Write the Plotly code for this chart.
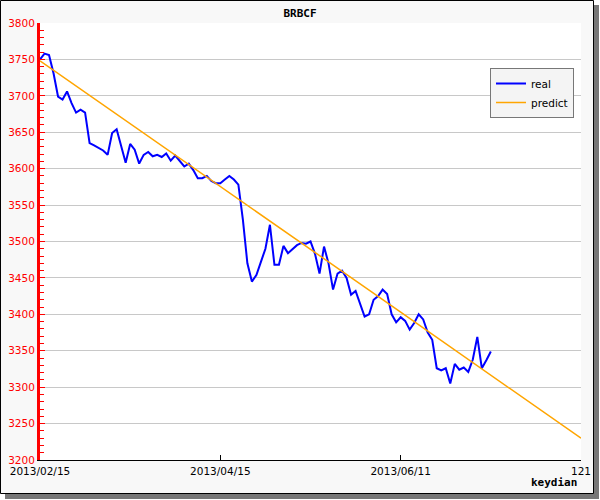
import plotly.graph_objects as go

# ---- data ----
real_x = list(range(0, 101))
real_y = [3750, 3758, 3756, 3731, 3699, 3695, 3706, 3690, 3677, 3681,
          3677, 3635, 3632, 3629, 3625, 3619, 3649, 3654, 3630, 3608,
          3634, 3626, 3607, 3619, 3623, 3617, 3619, 3616, 3621, 3611,
          3618, 3610, 3603, 3607, 3598, 3587, 3587, 3590, 3583, 3580,
          3580, 3585, 3590, 3585, 3578, 3530, 3470, 3445, 3454, 3472,
          3490, 3523, 3468, 3468, 3494, 3484, 3489, 3495, 3498, 3497,
          3500, 3483, 3456, 3493, 3470, 3434, 3456, 3460, 3450, 3427,
          3432, 3415, 3397, 3400, 3420, 3425, 3434, 3428, 3400, 3389,
          3396, 3391, 3379, 3388, 3400, 3393, 3375, 3365, 3326, 3323,
          3326, 3305, 3332, 3324, 3327, 3321, 3338, 3369, 3326, 3337,
          3349]

predict_x = [0, 40, 80, 120]
predict_y = [3748, 3576, 3403, 3230]

x_tick_vals = [0, 40, 80, 120]
x_tick_text = ["2013/02/15", "2013/04/15", "2013/06/11", "121"]

title_text = "BRBCF"
x_title = "keydian"

# ---- layout geometry (pixels) ----
W, H = 600, 500
L, R, T, B = 40, 581, 23, 460
pw, ph = R - L, B - T


def fx(px):
    return (px - L) / pw


def fy(py):
    return 1 - (py - T) / ph


fig = go.Figure()
fig.add_trace(go.Scatter(x=real_x, y=real_y, mode="lines", name="real",
                         line=dict(color="#0000ff", width=2)))
fig.add_trace(go.Scatter(x=predict_x, y=predict_y, mode="lines", name="predict",
                         line=dict(color="#ffa500", width=1.5)))

shapes = [
    # shadow
    dict(type="rect", xref="paper", yref="paper", layer="below",
         x0=fx(5), x1=fx(599), y0=fy(499), y1=fy(5),
         fillcolor="#777777", line=dict(width=0)),
    # frame
    dict(type="rect", xref="paper", yref="paper", layer="below",
         x0=fx(0.5), x1=fx(593.5), y0=fy(493.5), y1=fy(0.5),
         fillcolor="#f8f8f8", line=dict(color="black", width=1)),
    # plot area
    dict(type="rect", xref="paper", yref="paper", layer="below",
         x0=0, x1=1, y0=0, y1=1,
         fillcolor="white", line=dict(width=0)),
]

fig.update_layout(
    width=W, height=H,
    margin=dict(l=L, r=W - R, t=T, b=H - B, pad=0, autoexpand=False),
    paper_bgcolor="white",
    plot_bgcolor="rgba(0,0,0,0)",
    font=dict(family="DejaVu Sans", size=10.5, color="black"),
    title=dict(text=title_text, x=0.5, xref="container", y=1 - 13.5 / H,
               yref="container", xanchor="center", yanchor="middle",
               font=dict(family="DejaVu Sans Mono", size=11, color="black",
                         weight="bold")),
    shapes=shapes,
    showlegend=True,
    legend=dict(x=fx(532), y=fy(93), xanchor="center", yanchor="middle",
                bgcolor="#f4f4f4", bordercolor="#777777", borderwidth=1,
                font=dict(family="DejaVu Sans", size=10.5, color="black"),
                tracegroupgap=0, itemwidth=30),
    xaxis=dict(range=[0, 120], tickmode="array", tickvals=x_tick_vals,
               ticktext=x_tick_text, showgrid=False, zeroline=False,
               showline=True, linecolor="black", linewidth=1,
               ticks="inside", ticklen=5, tickcolor="black", tickwidth=1,
               ticklabelstandoff=1,
               tickfont=dict(family="DejaVu Sans", size=10.5, color="black"),
               automargin=False, fixedrange=True),
    yaxis=dict(range=[3200, 3800], dtick=50, tick0=3200, showgrid=True,
               gridcolor="#c8c8c8", gridwidth=1, zeroline=False,
               showline=True, linecolor="#ff0000", linewidth=3,
               ticks="inside", ticklen=5, tickcolor="#ff0000", tickwidth=1,
               minor=dict(dtick=10, ticks="inside", ticklen=4,
                          tickcolor="#ff0000", tickwidth=1, showgrid=False),
               tickfont=dict(family="DejaVu Sans", size=10.5, color="#ff0000"),
               automargin=False, fixedrange=True),
    annotations=[dict(text=x_title, xref="paper", yref="paper",
                      x=fx(579), y=fy(482.5), xanchor="right", yanchor="middle",
                      showarrow=False,
                      font=dict(family="DejaVu Sans Mono", size=11,
                                color="black", weight="bold"))],
)

fig.write_html("out.html", config={"displayModeBar": False},
               post_script="document.body.style.margin='0';"
                           "document.body.style.padding='0';")
